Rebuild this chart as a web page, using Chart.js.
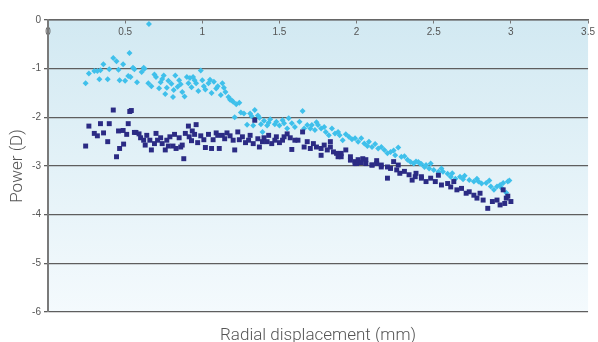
<!DOCTYPE html>
<html>
<head>
<meta charset="utf-8">
<title>Power vs radial displacement</title>
<script src="https://cdn.jsdelivr.net/npm/chart.js@4.4.1/dist/chart.umd.min.js"></script>
<style>
  html, body { margin: 0; padding: 0; background: #fff; }
</style>
</head>
<body>
<canvas id="c" width="598" height="342"></canvas>
<script>
// light blue diamonds
const lightX = [0.244,0.265,0.30,0.32,0.333,0.34,0.359,0.387,0.397,0.423,0.444,0.457,0.464,0.487,0.50,0.52,0.528,0.535,0.551,0.56,
  0.577,0.607,0.62,0.625,0.65,0.654,0.67,0.69,0.70,0.72,0.73,0.74,0.75,0.76,0.77,0.78,0.80,0.81,0.815,0.825,
  0.84,0.85,0.86,0.87,0.885,0.90,0.91,0.92,0.93,0.94,0.95,0.96,0.974,0.99,1.0,1.01,1.02,1.04,1.05,1.06,
  1.075,1.09,1.10,1.12,1.13,1.14,1.15,1.17,1.18,1.19,1.20,1.21,1.22,1.24,1.25,1.27,1.29,1.31,1.32,1.33,
  1.34,1.36,1.37,1.38,1.39,1.40,1.42,1.43,1.44,1.47,1.48,1.50,1.52,1.53,1.55,1.56,1.58,1.60,1.63,1.65,
  1.66,1.68,1.70,1.71,1.73,1.74,1.75,1.77,1.79,1.80,1.82,1.84,1.86,1.88,1.89,1.91,1.93,1.95,1.97,1.99,
  2.01,2.03,2.05,2.07,2.08,2.10,2.12,2.14,2.16,2.18,2.20,2.22,2.24,2.25,2.27,2.29,2.31,2.33,2.35,2.37,
  2.385,2.40,2.41,2.42,2.44,2.45,2.47,2.48,2.50,2.53,2.55,2.56,2.59,2.61,2.62,2.64,2.67,2.69,2.70,2.73,
  2.76,2.78,2.79,2.81,2.84,2.86,2.87,2.89,2.91,2.93,2.94,2.95,2.97,2.98,2.99];
const lightY = [-1.30,-1.10,-1.05,-1.05,-1.22,-1.03,-0.91,-1.22,-1.01,-0.78,-0.85,-1.02,-1.24,-0.91,-1.25,-1.15,-0.68,-1.17,-0.98,-1.01,
  -1.28,-1.07,-0.98,-1.00,-1.30,-0.08,-1.36,-1.12,-1.17,-1.40,-1.28,-1.21,-1.14,-1.52,-1.39,-1.25,-1.31,-1.58,-1.44,-1.14,
  -1.37,-1.24,-1.32,-1.48,-1.57,-1.17,-1.30,-1.19,-1.38,-1.17,-1.24,-1.30,-1.46,-1.04,-1.24,-1.36,-1.43,-1.30,-1.23,-1.50,
  -1.27,-1.41,-1.36,-1.54,-1.30,-1.39,-1.48,-1.58,-1.64,-1.65,-1.68,-2.00,-1.73,-1.70,-1.90,-1.92,-2.15,-1.92,-1.98,-2.17,
  -1.85,-1.96,-2.01,-2.14,-2.30,-2.07,-2.17,-2.11,-2.04,-2.14,-2.09,-2.17,-2.06,-2.12,-2.23,-2.02,-2.12,-2.20,-2.09,-1.87,
  -2.23,-2.16,-2.23,-2.16,-2.26,-2.10,-2.16,-2.23,-2.20,-2.30,-2.37,-2.23,-2.33,-2.30,-2.37,-2.47,-2.35,-2.40,-2.45,-2.43,
  -2.50,-2.43,-2.54,-2.59,-2.50,-2.61,-2.55,-2.64,-2.61,-2.67,-2.74,-2.71,-2.68,-2.78,-2.62,-2.81,-2.80,-2.87,-2.92,-2.95,
  -2.91,-2.92,-2.95,-2.96,-3.02,-2.98,-3.05,-2.95,-3.08,-3.12,-3.05,-3.12,-3.16,-3.22,-3.15,-3.26,-3.22,-3.27,-3.20,-3.29,
  -3.32,-3.26,-3.32,-3.36,-3.35,-3.30,-3.42,-3.49,-3.42,-3.39,-3.45,-3.35,-3.55,-3.32,-3.30];

// navy squares
const darkX = [0.244,0.265,0.30,0.32,0.34,0.36,0.387,0.397,0.423,0.444,0.457,0.464,0.487,0.49,0.51,0.52,0.53,0.54,0.56,0.57,
  0.59,0.60,0.62,0.63,0.64,0.66,0.67,0.69,0.70,0.71,0.73,0.74,0.76,0.77,0.78,0.79,0.81,0.82,0.83,0.85,
  0.86,0.87,0.88,0.89,0.91,0.915,0.93,0.935,0.95,0.96,0.97,0.99,1.01,1.02,1.04,1.06,1.07,1.09,1.10,1.11,
  1.13,1.145,1.16,1.18,1.20,1.21,1.23,1.24,1.26,1.28,1.30,1.31,1.33,1.34,1.36,1.37,1.39,1.40,1.42,1.43,
  1.45,1.47,1.48,1.50,1.52,1.53,1.55,1.57,1.58,1.60,1.62,1.65,1.66,1.68,1.70,1.72,1.74,1.77,1.77,1.79,
  1.81,1.83,1.83,1.85,1.87,1.88,1.90,1.90,1.93,1.96,1.96,1.99,1.99,2.0,2.01,2.03,2.04,2.06,2.06,2.10,
  2.10,2.13,2.13,2.16,2.16,2.20,2.20,2.22,2.24,2.26,2.27,2.28,2.31,2.34,2.36,2.38,2.385,2.42,2.42,2.45,
  2.48,2.51,2.53,2.55,2.59,2.61,2.63,2.65,2.68,2.71,2.73,2.76,2.78,2.80,2.82,2.85,2.88,2.91,2.93,2.95,
  2.96,2.97,2.98,3.0];
const darkY = [-2.59,-2.18,-2.33,-2.38,-2.13,-2.32,-2.50,-2.13,-1.85,-2.81,-2.28,-2.64,-2.27,-2.55,-2.35,-2.13,-1.88,-1.86,-2.31,-2.31,
  -2.34,-2.42,-2.47,-2.57,-2.37,-2.47,-2.67,-2.54,-2.33,-2.47,-2.42,-2.54,-2.67,-2.47,-2.59,-2.40,-2.59,-2.35,-2.64,-2.42,
  -2.61,-2.57,-2.85,-2.33,-2.18,-2.40,-2.48,-2.28,-2.35,-2.15,-2.52,-2.38,-2.46,-2.62,-2.35,-2.64,-2.46,-2.32,-2.37,-2.64,
  -2.37,-2.44,-2.32,-2.38,-2.47,-2.67,-2.30,-2.46,-2.40,-2.52,-2.47,-2.37,-2.54,-2.06,-2.44,-2.61,-2.50,-2.42,-2.50,-2.37,
  -2.54,-2.47,-2.40,-2.52,-2.47,-2.40,-2.34,-2.42,-2.66,-2.47,-2.47,-2.30,-2.61,-2.50,-2.64,-2.54,-2.61,-2.78,-2.64,-2.57,
  -2.67,-2.61,-2.50,-2.71,-2.74,-2.81,-2.74,-2.81,-2.67,-2.81,-2.88,-2.95,-2.91,-2.95,-2.87,-2.93,-2.85,-2.87,-2.95,-2.98,
  -2.98,-2.89,-2.95,-2.98,-3.02,-3.02,-3.25,-3.05,-2.91,-3.08,-2.98,-3.15,-3.11,-3.18,-3.29,-3.22,-3.15,-3.25,-3.22,-3.32,
  -3.25,-3.32,-3.19,-3.39,-3.36,-3.43,-3.32,-3.49,-3.46,-3.56,-3.53,-3.60,-3.66,-3.56,-3.70,-3.87,-3.73,-3.70,-3.80,-3.49,
  -3.77,-3.66,-3.62,-3.73];

const xTicksMax = 3.5;
const yMin = -6;
const yMax = 0;

const toPoints = (xs, ys) => xs.map((x, i) => ({ x: x, y: ys[i] }));

// plot area gradient behind the data
const plotBackground = {
  id: 'plotBackground',
  beforeDraw(chart) {
    const a = chart.chartArea;
    const ctx = chart.ctx;
    const g = ctx.createLinearGradient(0, a.top, 0, a.bottom);
    g.addColorStop(0, '#d2e9f2');
    g.addColorStop(1, '#f4fafd');
    ctx.save();
    ctx.fillStyle = g;
    ctx.fillRect(a.left, a.top, a.right - a.left, a.bottom - a.top);
    ctx.restore();
  }
};

const tickFont = { family: 'Liberation Sans', size: 10 };
const titleFont = { family: 'Roboto', size: 17, weight: '300', lineHeight: 1 };

new Chart(document.getElementById('c'), {
  type: 'scatter',
  data: {
    datasets: [
      {
        label: 'navy',
        data: toPoints(darkX, darkY),
        pointStyle: 'rect',
        pointRadius: 3.5,
        backgroundColor: '#2b2b84',
        borderColor: '#2b2b84',
        borderWidth: 0
      },
      {
        label: 'light',
        data: toPoints(lightX, lightY),
        pointStyle: 'rectRot',
        pointRadius: 3,
        backgroundColor: '#3fc0eb',
        borderColor: '#3fc0eb',
        borderWidth: 0
      }
    ]
  },
  options: {
    responsive: false,
    animation: false,
    events: [],
    layout: { padding: { top: 20, right: 7, bottom: -2, left: 0 } },
    plugins: {
      legend: { display: false },
      tooltip: { enabled: false }
    },
    scales: {
      x: {
        type: 'linear',
        position: { y: 0 },
        min: 0,
        max: xTicksMax,
        ticks: {
          stepSize: 0.5, color: '#555', font: tickFont, padding: 3, maxRotation: 0,
          callback: (v) => String(v)
        },
        grid: { display: true, drawOnChartArea: false, drawTicks: true, tickLength: 3, color: '#777' },
        border: { display: true, color: '#666', width: 1.5 }
      },
      // carries only the axis title, under the plot
      xTitle: {
        type: 'linear',
        axis: 'x',
        position: 'bottom',
        min: 0,
        max: xTicksMax,
        ticks: { display: false },
        grid: { display: false, drawTicks: false },
        border: { display: false },
        title: {
          display: true,
          text: 'Radial displacement (mm)',
          color: '#555',
          font: titleFont,
          padding: { top: 15, bottom: 0 }
        }
      },
      y: {
        min: yMin,
        max: yMax,
        afterFit(scale) { scale.width = 48; },
        ticks: { stepSize: 1, color: '#555', font: tickFont, padding: 3 },
        grid: { color: '#5e5e5e', lineWidth: 1.3, tickLength: 4, drawTicks: true },
        border: { display: true, color: '#7a7a7a', width: 2 },
        title: {
          display: true,
          text: 'Power (D)',
          color: '#555',
          font: titleFont,
          padding: { top: 9, bottom: 0 }
        }
      }
    }
  },
  plugins: [plotBackground]
});
</script>
</body>
</html>
